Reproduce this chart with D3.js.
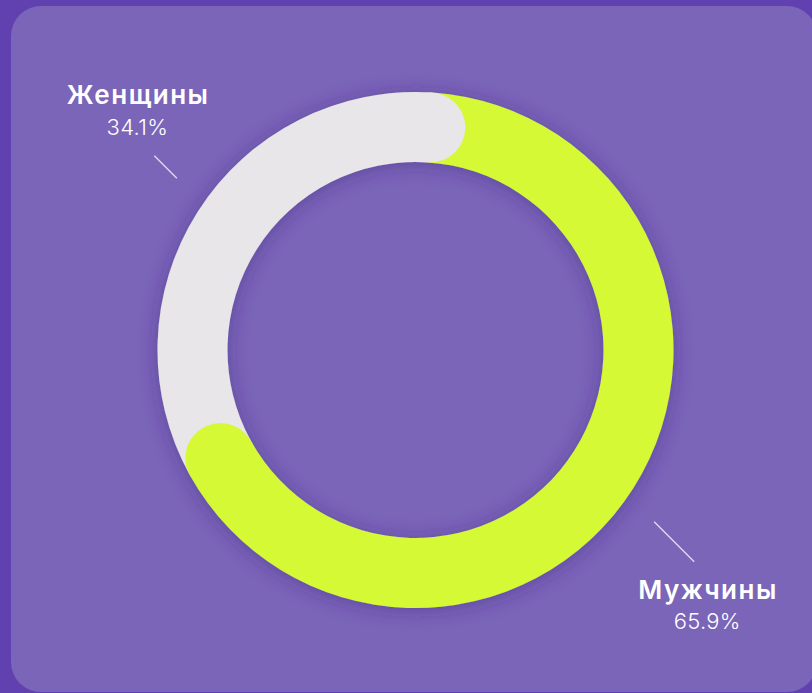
<!DOCTYPE html>
<html>
<head>
<meta charset="utf-8">
<script src="https://cdn.jsdelivr.net/npm/d3@7"></script>
<style>
  html, body { margin: 0; padding: 0; background: #6140b0; }
  svg { display: block; }
</style>
</head>
<body>
<div id="chart"></div>
<script>
// data
var categories = ["Мужчины", "Женщины"];
var shares = [65.9, 34.1];
var percentLabels = ["65.9%", "34.1%"];
var colors = ["#d5f936", "#e8e6e8"];

var width = 812, height = 693;
var cx = 415.5, cy = 350;
var outerR = 258, innerR = 188;
var midR = (outerR + innerR) / 2;
var startAngle = 3.8 * Math.PI / 180;

var svg = d3.select("#chart")
  .append("svg")
  .attr("width", width)
  .attr("height", height);

var defs = svg.append("defs");
var shadow = defs.append("filter")
  .attr("id", "ring-shadow")
  .attr("x", "-30%").attr("y", "-30%")
  .attr("width", "160%").attr("height", "160%");
shadow.append("feDropShadow")
  .attr("dx", 0).attr("dy", 2)
  .attr("stdDeviation", 10)
  .attr("flood-color", "#3a2080")
  .attr("flood-opacity", 0.5);

// card
svg.append("rect")
  .attr("x", 11).attr("y", 6)
  .attr("width", 806).attr("height", 686)
  .attr("rx", 30)
  .attr("fill", "#7b65b9");

var pie = d3.pie()
  .sort(null)
  .startAngle(startAngle)
  .endAngle(startAngle + 2 * Math.PI);
var arcs = pie(shares);

var arc = d3.arc()
  .innerRadius(innerR)
  .outerRadius(outerR);

var ring = svg.append("g")
  .attr("transform", "translate(" + cx + "," + cy + ")")
  .attr("filter", "url(#ring-shadow)");

// arc bodies
ring.selectAll("path.body")
  .data(arcs)
  .enter()
  .append("path")
  .attr("class", "body")
  .attr("d", arc)
  .attr("fill", function (d, i) { return colors[i]; });

// rounded end caps sit on top of the next segment's start
ring.selectAll("circle.cap")
  .data(arcs)
  .enter()
  .append("circle")
  .attr("class", "cap")
  .attr("cx", function (d) { return midR * Math.sin(d.endAngle); })
  .attr("cy", function (d) { return -midR * Math.cos(d.endAngle); })
  .attr("r", (outerR - innerR) / 2)
  .attr("fill", function (d, i) { return colors[i]; });

// labels with leader lines
var lineLen = [40, 22.5];
var labelShift = 3.3 * Math.PI / 180;
var labelR = 294;

var labels = svg.append("g")
  .attr("transform", "translate(" + cx + "," + cy + ")");

arcs.forEach(function (d, i) {
  var mid = (d.startAngle + d.endAngle) / 2 + labelShift;
  var sx = labelR * Math.sin(mid), sy = -labelR * Math.cos(mid);
  var dirX = sx < 0 ? -1 : 1, dirY = sy < 0 ? -1 : 1;
  var ex = sx + dirX * lineLen[i], ey = sy + dirY * lineLen[i];

  labels.append("line")
    .attr("x1", sx).attr("y1", sy)
    .attr("x2", ex).attr("y2", ey)
    .attr("stroke", "#ffffff")
    .attr("stroke-opacity", 0.75)
    .attr("stroke-width", 1.4);

  var tx, nameY, pctY;
  if (dirY < 0) {
    tx = ex - 17; nameY = ey - 52; pctY = ey - 21;
  } else {
    tx = ex + 13; nameY = ey + 37; pctY = ey + 67;
  }

  labels.append("text")
    .attr("x", tx + 0.8).attr("y", nameY)
    .attr("text-anchor", "middle")
    .attr("fill", "#ffffff")
    .style("font-family", "Inter, 'Open Sans', sans-serif")
    .style("font-weight", 600)
    .style("font-size", "26px")
    .style("letter-spacing", "1.5px")
    .text(categories[i]);

  labels.append("text")
    .attr("x", tx).attr("y", pctY)
    .attr("text-anchor", "middle")
    .attr("fill", "#ffffff")
    .style("font-family", "Inter, 'Open Sans', sans-serif")
    .style("font-weight", 300)
    .style("font-size", "22px")
    .style("letter-spacing", "0.3px")
    .text(percentLabels[i]);
});
</script>
</body>
</html>
